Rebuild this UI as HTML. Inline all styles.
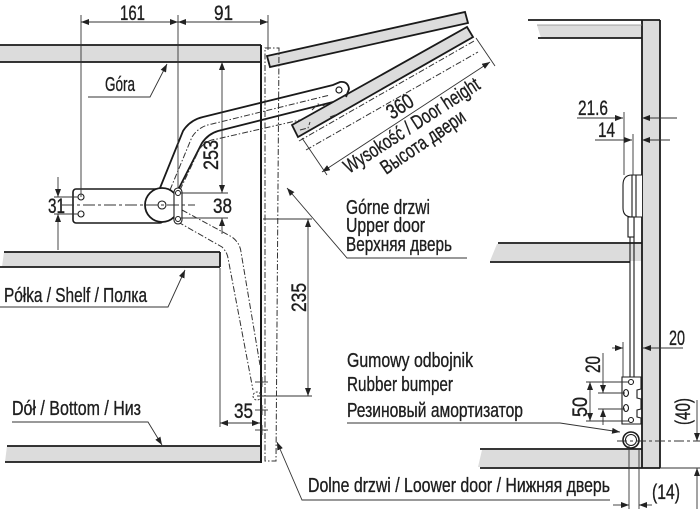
<!DOCTYPE html>
<html><head><meta charset="utf-8">
<style>
html,body{margin:0;padding:0;background:#fff;}
svg{display:block;}
text{font-family:"Liberation Sans","Noto Sans CJK SC",sans-serif;fill:#1e1e1e;stroke:#1e1e1e;stroke-width:0.35;}
</style></head><body>
<svg width="700" height="509" viewBox="0 0 700 509" xmlns="http://www.w3.org/2000/svg">
<defs>
<marker id="a" viewBox="0 0 8 6" refX="8" refY="3" markerWidth="8" markerHeight="6" markerUnits="userSpaceOnUse" orient="auto-start-reverse"><path d="M0,0 L8,3 L0,6 z" fill="#222"/></marker>
</defs>
<rect width="700" height="509" fill="#fff"/>

<!-- gray fills -->
<g fill="#dcdcdc" stroke="none">
<rect x="0" y="45" width="261" height="17"/>
<polygon points="4,252 220,252 220,267 2,267"/>
<polygon points="7,446 260,446 260,462 5,462"/>
<polygon points="537,25 642,25 642,38 541,38"/>
<polygon points="497,244 642,244 642,261 490,261"/>
<polygon points="482,450 642,450 642,467 478,467"/>
<rect x="642" y="20" width="18" height="448"/>
<polygon points="267,56 465,12 468,23 270,67"/>
<polygon points="292,125 467,27 473,37 298,137"/>
</g>

<!-- main outlines left -->
<g stroke="#1a1a1a" stroke-width="1.8" fill="none">
<line x1="0" y1="45" x2="261" y2="45"/>
<line x1="0" y1="62" x2="261" y2="62"/>
<line x1="4" y1="252" x2="220" y2="252"/>
<line x1="0" y1="267" x2="220" y2="267"/>
<line x1="220" y1="252" x2="220" y2="267"/>
<line x1="7" y1="446" x2="260" y2="446"/>
<line x1="5" y1="462" x2="260" y2="462"/>
<line x1="261" y1="45" x2="261" y2="463" stroke-width="2"/>
<polygon points="267,56 465,12 468,23 270,67"/>
<polygon points="292,125 467,27 473,37 298,137"/>
<path d="M160,188 L183,131 Q190,120 203,117 L333,85 L340,82 Q348,81 349,89 L346,97"/>
<path d="M177,192 L202,143 Q208,134 218,131 L333,102"/>
</g>
<circle cx="339" cy="90" r="3" fill="#fff" stroke="#1a1a1a" stroke-width="1.2"/>

<!-- dashed elements left -->
<g stroke="#333" stroke-width="1" fill="none" stroke-dasharray="6 2 1.5 2">
<polygon points="265,48 279,48 276,461 265,461"/>
<path d="M170,190 L192,137 Q199,126 212,124 L330,95"/>
<path d="M180,190 L199,150 Q205,140 217,139 L300,120"/>
<path d="M182,210 L232,237 Q240,243 241,252 L260,365"/>
<path d="M178,222 L222,247 Q227,252 228,258 L253,390"/>
<line x1="299" y1="141" x2="474" y2="41"/>
<line x1="306" y1="150" x2="478" y2="52"/>
<path d="M312,110 L318,104 L325,106 M300,130 L308,128 L310,122 M330,117 L338,114"/>
</g>
<circle cx="257" cy="396" r="4" fill="none" stroke="#333" stroke-width="1" stroke-dasharray="2 1.5"/>
<g stroke="#333" stroke-width="0.9">
<line x1="255" y1="382" x2="268" y2="382"/>
<line x1="262" y1="377" x2="262" y2="387"/>
<line x1="255" y1="410" x2="268" y2="410"/>
<line x1="262" y1="405" x2="262" y2="415"/>
<line x1="255" y1="430" x2="268" y2="430"/>
<line x1="262" y1="425" x2="262" y2="435"/>
</g>

<!-- bracket / pulley -->
<rect x="73" y="189" width="90" height="34" rx="3" fill="#fff" stroke="#1a1a1a" stroke-width="1.6"/>
<circle cx="81" cy="197" r="3" fill="#fff" stroke="#1a1a1a" stroke-width="1.1"/>
<circle cx="81" cy="214" r="3" fill="#fff" stroke="#1a1a1a" stroke-width="1.1"/>
<circle cx="162" cy="205" r="17" fill="#fff" stroke="#1a1a1a" stroke-width="1.8"/>
<circle cx="162" cy="205" r="4" fill="#fff" stroke="#1a1a1a" stroke-width="1.1"/>
<rect x="174" y="188" width="8" height="36" rx="4" fill="#fff" stroke="#1a1a1a" stroke-width="1.1"/>
<circle cx="178" cy="193" r="2.5" fill="#fff" stroke="#1a1a1a" stroke-width="1"/>
<circle cx="178" cy="219" r="2.5" fill="#fff" stroke="#1a1a1a" stroke-width="1"/>
<line x1="62" y1="205" x2="195" y2="205" stroke="#333" stroke-width="0.9" stroke-dasharray="12 3 3 3"/>

<!-- right cabinet outlines -->
<g stroke="#1a1a1a" stroke-width="1.8" fill="none">
<line x1="528" y1="20" x2="660" y2="20"/>
<line x1="538" y1="38" x2="642" y2="38"/>
<line x1="642" y1="20" x2="642" y2="468"/>
<line x1="660" y1="20" x2="660" y2="468"/>
<line x1="480" y1="468" x2="660" y2="468"/>
<line x1="498" y1="243" x2="642" y2="243"/>
<line x1="490" y1="262" x2="630" y2="262"/>
<line x1="480" y1="449" x2="642" y2="449"/>
</g>
<line x1="537" y1="25" x2="642" y2="25" stroke="#888" stroke-width="0.8"/>
<g stroke="#1a1a1a" stroke-width="1.1" fill="none">
<line x1="630" y1="217" x2="630" y2="377"/>
<line x1="634" y1="217" x2="634" y2="377"/>
<path d="M642,175 L632,175 Q623,175 623,185 L623,208 Q623,217 632,217 L642,217" fill="#fff"/>
<line x1="632" y1="175" x2="632" y2="217"/>
<line x1="636" y1="175" x2="636" y2="217"/>
<rect x="628" y="217" width="6" height="20" fill="#fff"/>
<path d="M622,377 L641,377 L641,389 L637,390 L637,398 L641,399 L641,409 L637,410 L637,417 L641,418 L641,424 L622,424 Z" fill="#fff"/>
<circle cx="631" cy="382" r="2.5"/>
<ellipse cx="626" cy="393" rx="2.5" ry="3.5"/>
<ellipse cx="626" cy="408" rx="2.5" ry="3.5"/>
<circle cx="631" cy="420" r="2.5"/>
</g>
<circle cx="631" cy="440" r="8" fill="#fff" stroke="#1a1a1a" stroke-width="1.6"/>
<circle cx="631" cy="440" r="5.5" fill="none" stroke="#1a1a1a" stroke-width="1"/>

<!-- dimension & leader lines -->
<g stroke="#333" stroke-width="0.9" fill="none">
<line x1="81" y1="15" x2="81" y2="197"/>
<line x1="178" y1="15" x2="178" y2="188"/>
<line x1="268" y1="15" x2="268" y2="50"/>
<line x1="81" y1="22" x2="178" y2="22" marker-start="url(#a)" marker-end="url(#a)"/>
<line x1="178" y1="22" x2="268" y2="22" marker-start="url(#a)" marker-end="url(#a)"/>
<line x1="222" y1="62" x2="222" y2="193" marker-start="url(#a)" marker-end="url(#a)"/>
<line x1="222" y1="234" x2="222" y2="218" marker-end="url(#a)"/>
<line x1="180" y1="193" x2="228" y2="193"/>
<line x1="180" y1="218" x2="228" y2="218"/>
<line x1="58" y1="177" x2="58" y2="197" marker-end="url(#a)"/>
<line x1="58" y1="250" x2="58" y2="214" marker-end="url(#a)"/>
<line x1="54" y1="197" x2="78" y2="197"/>
<line x1="54" y1="214" x2="78" y2="214"/>
<polyline points="88,97 150,97 167,64" marker-end="url(#a)"/>
<polyline points="0,307 168,307 185,270" marker-end="url(#a)"/>
<polyline points="12,422 148,422 162,445" marker-end="url(#a)"/>
<line x1="220" y1="268" x2="220" y2="427"/>
<line x1="220" y1="423" x2="260" y2="423" marker-start="url(#a)" marker-end="url(#a)"/>
<line x1="308" y1="219" x2="308" y2="396" marker-start="url(#a)" marker-end="url(#a)"/>
<line x1="263" y1="219" x2="312" y2="219"/>
<line x1="257" y1="396" x2="312" y2="396"/>
<polyline points="467,258 347,258 287,188" marker-end="url(#a)"/>
<polyline points="610,500 302,500 277,442" marker-end="url(#a)"/>
<polyline points="347,423 560,423 620,432" marker-end="url(#a)"/>
<line x1="322" y1="172" x2="490" y2="62" marker-start="url(#a)" marker-end="url(#a)"/>
<line x1="302" y1="138" x2="327" y2="175"/>
<line x1="476" y1="38" x2="495" y2="66"/>
<line x1="577" y1="118" x2="623" y2="118" marker-end="url(#a)"/>
<line x1="677" y1="118" x2="642" y2="118" marker-end="url(#a)"/>
<line x1="624" y1="112" x2="624" y2="175"/>
<line x1="595" y1="140" x2="632" y2="140" marker-end="url(#a)"/>
<line x1="670" y1="140" x2="642" y2="140" marker-end="url(#a)"/>
<line x1="633" y1="134" x2="633" y2="175"/>
<line x1="612" y1="348" x2="623" y2="348" marker-end="url(#a)"/>
<line x1="683" y1="348" x2="643" y2="348" marker-end="url(#a)"/>
<line x1="623" y1="342" x2="623" y2="377"/>
<line x1="603" y1="353" x2="603" y2="393" marker-end="url(#a)"/>
<line x1="603" y1="425" x2="603" y2="409" marker-end="url(#a)"/>
<line x1="598" y1="393" x2="625" y2="393"/>
<line x1="598" y1="409" x2="625" y2="409"/>
<line x1="590" y1="382" x2="590" y2="421" marker-start="url(#a)" marker-end="url(#a)"/>
<line x1="586" y1="382" x2="629" y2="382"/>
<line x1="586" y1="421" x2="629" y2="421"/>
<line x1="697" y1="400" x2="697" y2="441" marker-end="url(#a)"/>
<line x1="697" y1="509" x2="697" y2="468" marker-end="url(#a)"/>
<line x1="617" y1="441" x2="700" y2="441" stroke-dasharray="10 3 3 3"/>
<line x1="660" y1="468" x2="700" y2="468"/>
<line x1="629" y1="446" x2="629" y2="509"/>
<line x1="639" y1="448" x2="639" y2="509"/>
<line x1="613" y1="505" x2="629" y2="505" marker-end="url(#a)"/>
<line x1="652" y1="505" x2="639" y2="505" marker-end="url(#a)"/>
</g>

<!-- text -->
<g font-size="21">
<text x="120" y="20" textLength="25" lengthAdjust="spacingAndGlyphs">161</text>
<text x="214" y="20" textLength="19" lengthAdjust="spacingAndGlyphs">91</text>
<text x="213" y="213" textLength="19" lengthAdjust="spacingAndGlyphs">38</text>
<text x="48" y="213" textLength="17" lengthAdjust="spacingAndGlyphs">31</text>
<text x="234" y="418" textLength="19" lengthAdjust="spacingAndGlyphs">35</text>
<text transform="translate(218,170) rotate(-90)" textLength="30" lengthAdjust="spacingAndGlyphs">253</text>
<text transform="translate(306,312) rotate(-90)" textLength="29" lengthAdjust="spacingAndGlyphs">235</text>
<text x="578" y="115" textLength="30" lengthAdjust="spacingAndGlyphs">21.6</text>
<text x="598" y="137" textLength="17" lengthAdjust="spacingAndGlyphs">14</text>
<text x="669" y="345" textLength="16" lengthAdjust="spacingAndGlyphs">20</text>
<text transform="translate(600,373) rotate(-90)" textLength="17" lengthAdjust="spacingAndGlyphs">20</text>
<text transform="translate(587,417) rotate(-90)" textLength="20" lengthAdjust="spacingAndGlyphs">50</text>
<text transform="translate(690,425) rotate(-90)" textLength="27" lengthAdjust="spacingAndGlyphs">(40)</text>
<text x="652" y="499" textLength="28" lengthAdjust="spacingAndGlyphs">(14)</text>
<text transform="translate(392,120) rotate(-33)" textLength="28" lengthAdjust="spacingAndGlyphs">360</text>
</g>
<g font-size="20">
<text x="105" y="91" textLength="30" lengthAdjust="spacingAndGlyphs">Góra</text>
<text x="4" y="302" textLength="143" lengthAdjust="spacingAndGlyphs">Półka / Shelf / Полка</text>
<text x="12" y="415" textLength="129" lengthAdjust="spacingAndGlyphs">Dół / Bottom / Низ</text>
<text x="346" y="214" textLength="84" lengthAdjust="spacingAndGlyphs">Górne drzwi</text>
<text x="346" y="232" textLength="79" lengthAdjust="spacingAndGlyphs">Upper door</text>
<text x="346" y="251" textLength="106" lengthAdjust="spacingAndGlyphs">Верхняя дверь</text>
<text x="347" y="367" textLength="126" lengthAdjust="spacingAndGlyphs">Gumowy odbojnik</text>
<text x="347" y="391" textLength="106" lengthAdjust="spacingAndGlyphs">Rubber bumper</text>
<text x="347" y="417" textLength="176" lengthAdjust="spacingAndGlyphs">Резиновый амортизатор</text>
<text x="308" y="492" textLength="302" lengthAdjust="spacingAndGlyphs">Dolne drzwi / Loower door / Нижняя дверь</text>
<text transform="translate(349,174) rotate(-33)" textLength="158" lengthAdjust="spacingAndGlyphs">Wysokość / Door height</text>
<text transform="translate(386,175) rotate(-34)" textLength="98" lengthAdjust="spacingAndGlyphs">Высота двери</text>
</g>
</svg>
</body></html>
